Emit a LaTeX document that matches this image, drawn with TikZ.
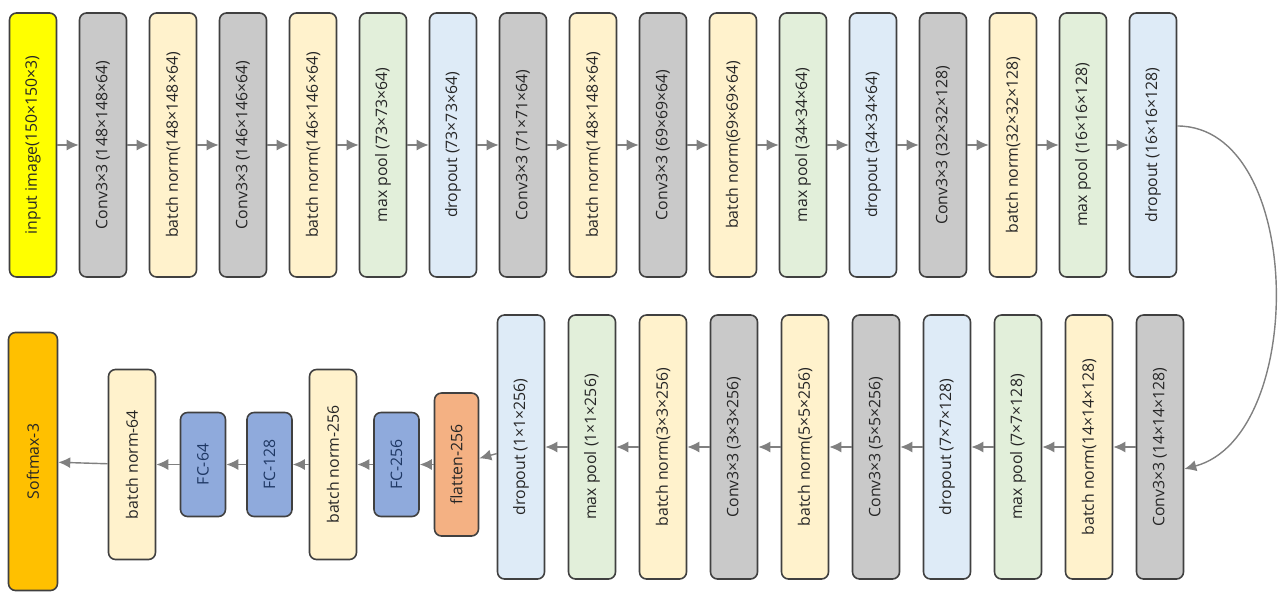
\documentclass[tikz,border=0pt]{standalone}
\usepackage{fontspec}
\setmainfont{Open Sans}
\usetikzlibrary{arrows.meta}
\definecolor{inyellow}{HTML}{FFFF00}
\definecolor{convgray}{HTML}{C9C9C9}
\definecolor{bncream}{HTML}{FFF2CC}
\definecolor{poolgreen}{HTML}{E2EFDA}
\definecolor{dropblue}{HTML}{DEEBF7}
\definecolor{flatorange}{HTML}{F4B183}
\definecolor{fcblue}{HTML}{8FAADC}
\definecolor{fctext}{HTML}{1F3864}
\definecolor{softorange}{HTML}{FFC000}
\definecolor{edgegray}{HTML}{404040}
\definecolor{arrowgray}{HTML}{808080}
\tikzstyle{layer} = [rectangle, rounded corners=4pt, minimum width=0.94cm, minimum height=5.28cm, inner sep=0pt, text centered, draw=edgegray, line width=0.9pt, text=black!85, font=\fontsize{9pt}{11pt}\selectfont]
\tikzstyle{inbox} = [layer, fill=inyellow]
\tikzstyle{conv} = [layer, fill=convgray]
\tikzstyle{bnorm} = [layer, fill=bncream]
\tikzstyle{pool} = [layer, fill=poolgreen]
\tikzstyle{drop} = [layer, fill=dropblue]
\tikzstyle{flat} = [layer, fill=flatorange, minimum width=0.88cm, minimum height=2.86cm]
\tikzstyle{fc} = [layer, fill=fcblue, minimum width=0.9cm, minimum height=2.08cm, text=fctext]
\tikzstyle{bnshort} = [layer, fill=bncream, minimum height=3.8cm]
\tikzstyle{softmax} = [layer, fill=softorange, minimum width=0.98cm, minimum height=5.16cm]
\tikzstyle{arrow} = [line width=0.8pt, draw=arrowgray, -{Latex[length=2.4mm,width=2.2mm]}]
\newcommand{\vlabel}[1]{\rotatebox{90}{#1}}

\begin{document}
\begin{tikzpicture}[node distance=1.4cm]
\useasboundingbox (0,0) rectangle (25.66,-11.84);

% Top row
\node (in) [inbox] at (0.66,-2.9) {\vlabel{input image(150×150×3)}};
\node (conv1) [conv, right of=in] {\vlabel{Conv3×3 (148×148×64)}};
\node (bn1) [bnorm, right of=conv1] {\vlabel{batch norm(148×148×64)}};
\node (conv2) [conv, right of=bn1] {\vlabel{Conv3×3 (146×146×64)}};
\node (bn2) [bnorm, right of=conv2] {\vlabel{batch norm(146×146×64)}};
\node (pool1) [pool, right of=bn2] {\vlabel{max pool (73×73×64)}};
\node (drop1) [drop, right of=pool1] {\vlabel{dropout (73×73×64)}};
\node (conv3) [conv, right of=drop1] {\vlabel{Conv3×3 (71×71×64)}};
\node (bn3) [bnorm, right of=conv3] {\vlabel{batch norm(148×148×64)}};
\node (conv4) [conv, right of=bn3] {\vlabel{Conv3×3 (69×69×64)}};
\node (bn4) [bnorm, right of=conv4] {\vlabel{batch norm(69×69×64)}};
\node (pool2) [pool, right of=bn4] {\vlabel{max pool (34×34×64)}};
\node (drop2) [drop, right of=pool2] {\vlabel{dropout (34×34×64)}};
\node (conv5) [conv, right of=drop2] {\vlabel{Conv3×3 (32×32×128)}};
\node (bn5) [bnorm, right of=conv5] {\vlabel{batch norm(32×32×128)}};
\node (pool3) [pool, right of=bn5] {\vlabel{max pool (16×16×128)}};
\node (drop3) [drop, right of=pool3] {\vlabel{dropout (16×16×128)}};

% Bottom row, right to left
\begin{scope}[node distance=1.42cm]
\node (conv6) [conv, below of=drop3, yshift=-4.62cm, xshift=0.14cm] {\vlabel{Conv3×3 (14×14×128)}};
\node (bn6) [bnorm, left of=conv6] {\vlabel{batch norm(14×14×128)}};
\node (pool4) [pool, left of=bn6] {\vlabel{max pool (7×7×128)}};
\node (drop4) [drop, left of=pool4] {\vlabel{dropout (7×7×128)}};
\node (conv7) [conv, left of=drop4] {\vlabel{Conv3×3 (5×5×256)}};
\node (bn7) [bnorm, left of=conv7] {\vlabel{batch norm(5×5×256)}};
\node (conv8) [conv, left of=bn7] {\vlabel{Conv3×3 (3×3×256)}};
\node (bn8) [bnorm, left of=conv8] {\vlabel{batch norm(3×3×256)}};
\node (pool5) [pool, left of=bn8] {\vlabel{max pool (1×1×256)}};
\node (drop5) [drop, left of=pool5] {\vlabel{dropout (1×1×256)}};
\node (flat) [flat, left of=drop5, xshift=0.13cm, yshift=-0.35cm] {\vlabel{flatten-256}};
\node (fc1) [fc, left of=flat, xshift=0.22cm] {\vlabel{FC-256}};
\node (bn9) [bnshort, left of=fc1, xshift=0.15cm] {\vlabel{batch norm-256}};
\node (fc2) [fc, left of=bn9, xshift=0.15cm] {\vlabel{FC-128}};
\node (fc3) [fc, left of=fc2, xshift=0.09cm] {\vlabel{FC-64}};
\node (bn10) [bnshort, left of=fc3] {\vlabel{batch norm-64}};
\node (soft) [softmax, left of=bn10, xshift=-0.56cm, yshift=0.06cm] {\vlabel{Softmax-3}};
\end{scope}

% Arrows
\draw [arrow] (in) -- (conv1);
\draw [arrow] (conv1) -- (bn1);
\draw [arrow] (bn1) -- (conv2);
\draw [arrow] (conv2) -- (bn2);
\draw [arrow] (bn2) -- (pool1);
\draw [arrow] (pool1) -- (drop1);
\draw [arrow] (drop1) -- (conv3);
\draw [arrow] (conv3) -- (bn3);
\draw [arrow] (bn3) -- (conv4);
\draw [arrow] (conv4) -- (bn4);
\draw [arrow] (bn4) -- (pool2);
\draw [arrow] (pool2) -- (drop2);
\draw [arrow] (drop2) -- (conv5);
\draw [arrow] (conv5) -- (bn5);
\draw [arrow] (bn5) -- (pool3);
\draw [arrow] (pool3) -- (drop3);
\draw [arrow] ([yshift=0.38cm]drop3.east) to[out=0, in=15, looseness=0.95] ([yshift=-0.44cm]conv6.east);
\draw [arrow] (conv6) -- (bn6);
\draw [arrow] (bn6) -- (pool4);
\draw [arrow] (pool4) -- (drop4);
\draw [arrow] (drop4) -- (conv7);
\draw [arrow] (conv7) -- (bn7);
\draw [arrow] (bn7) -- (conv8);
\draw [arrow] (conv8) -- (bn8);
\draw [arrow] (bn8) -- (pool5);
\draw [arrow] (pool5) -- (drop5);
\draw [arrow] (drop5) -- (flat);
\draw [arrow] (flat) -- (fc1);
\draw [arrow] (fc1) -- (bn9);
\draw [arrow] (bn9) -- (fc2);
\draw [arrow] (fc2) -- (fc3);
\draw [arrow] (fc3) -- (bn10);
\draw [arrow] (bn10) -- (soft);

\end{tikzpicture}
\end{document}
